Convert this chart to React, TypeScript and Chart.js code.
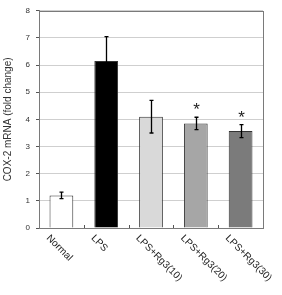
import React, { useEffect, useRef } from "react";
import { Chart, registerables } from "chart.js";

Chart.register(...registerables);

const categories = ["Normal", "LPS", "LPS+Rg3(10)", "LPS+Rg3(20)", "LPS+Rg3(30)"];
const meanValues = [1.2, 6.15, 4.1, 3.85, 3.57];
const errorValues = [0.12, 0.9, 0.6, 0.23, 0.24];
const significant = [false, false, false, true, true];
const barColors = ["#ffffff", "#000000", "#d9d9d9", "#a6a6a6", "#7b7b7b"];
const yTicks = [0, 1, 2, 3, 4, 5, 6, 7, 8];

const FONT = "'Liberation Sans', Arial, sans-serif";

const decorations = {
  id: "decorations",
  afterDatasetsDraw(chart: any) {
    const { ctx, chartArea, scales } = chart;
    const x = scales.x;
    const y = scales.y;
    ctx.save();

    // plot frame
    ctx.strokeStyle = "#7a7a7a";
    ctx.lineWidth = 1;
    ctx.strokeRect(
      Math.round(chartArea.left) + 0.5,
      Math.round(chartArea.top) + 0.5,
      Math.round(chartArea.right - chartArea.left),
      Math.round(chartArea.bottom - chartArea.top)
    );

    // small inward ticks between categories
    ctx.strokeStyle = "#555";
    for (let i = 1; i < categories.length; i++) {
      const px = Math.round((x.getPixelForValue(i - 1) + x.getPixelForValue(i)) / 2) + 0.5;
      ctx.beginPath();
      ctx.moveTo(px, chartArea.bottom);
      ctx.lineTo(px, chartArea.bottom - 3);
      ctx.stroke();
    }

    // error bars and significance marks
    ctx.strokeStyle = "#000";
    ctx.fillStyle = "#222";
    meanValues.forEach((v, i) => {
      const cx = Math.round(x.getPixelForValue(i)) + 0.5;
      const yTop = y.getPixelForValue(v + errorValues[i]);
      const yBot = y.getPixelForValue(v - errorValues[i]);
      ctx.lineWidth = 1.3;
      ctx.beginPath();
      ctx.moveTo(cx, yTop);
      ctx.lineTo(cx, yBot);
      ctx.moveTo(cx - 2, yTop);
      ctx.lineTo(cx + 2, yTop);
      ctx.moveTo(cx - 2, yBot);
      ctx.lineTo(cx + 2, yBot);
      ctx.stroke();
      if (significant[i]) {
        ctx.font = `17px ${FONT}`;
        ctx.textAlign = "center";
        ctx.textBaseline = "top";
        ctx.fillText("*", cx, yTop - 15);
      }
    });

    // rotated category labels
    ctx.fillStyle = "#222";
    ctx.font = `10px ${FONT}`;
    ctx.textAlign = "left";
    ctx.textBaseline = "top";
    categories.forEach((c, i) => {
      const cx = x.getPixelForValue(i);
      ctx.save();
      ctx.translate(cx - 10, chartArea.bottom + 5);
      ctx.rotate(Math.PI / 4);
      ctx.fillText(c, 0, 0);
      ctx.restore();
    });
    ctx.restore();
  },
};

export default function App() {
  const ref = useRef<HTMLCanvasElement | null>(null);

  useEffect(() => {
    if (!ref.current) return;
    const chart = new Chart(ref.current, {
      type: "bar",
      data: {
        labels: categories,
        datasets: [
          {
            data: meanValues,
            backgroundColor: barColors,
            borderColor: "#333333",
            borderWidth: 1,
            barPercentage: 0.53,
            categoryPercentage: 1,
          },
        ],
      },
      options: {
        responsive: true,
        maintainAspectRatio: false,
        animation: false,
        layout: { padding: { left: 2, right: 19, top: 10, bottom: 0 } },
        plugins: {
          legend: { display: false },
          tooltip: { enabled: false },
        },
        scales: {
          x: {
            grid: { display: false },
            border: { display: false },
            ticks: { display: false },
            afterFit: (s: any) => {
              s.height = 67;
            },
          },
          y: {
            min: 0,
            max: 8,
            afterBuildTicks: (s: any) => {
              s.ticks = yTicks.map((v) => ({ value: v }));
            },
            afterFit: (s: any) => {
              s.width = 37;
            },
            grid: { color: "#cfcfcf", lineWidth: 1, tickLength: 3, tickColor: "#555" },
            border: { display: true, color: "#7a7a7a" },
            ticks: {
              color: "#333",
              font: { size: 8, family: FONT },
              padding: 6,
            },
            title: {
              display: true,
              text: "COX-2 mRNA (fold change)",
              color: "#333",
              font: { size: 10, family: FONT },
              padding: { top: 0, bottom: 2 },
            },
          },
        },
      },
      plugins: [decorations],
    });
    return () => chart.destroy();
  }, []);

  return (
    <div style={{ position: "fixed", left: 0, top: 0, width: 282, height: 295, background: "#fff" }}>
      <canvas ref={ref} />
    </div>
  );
}
